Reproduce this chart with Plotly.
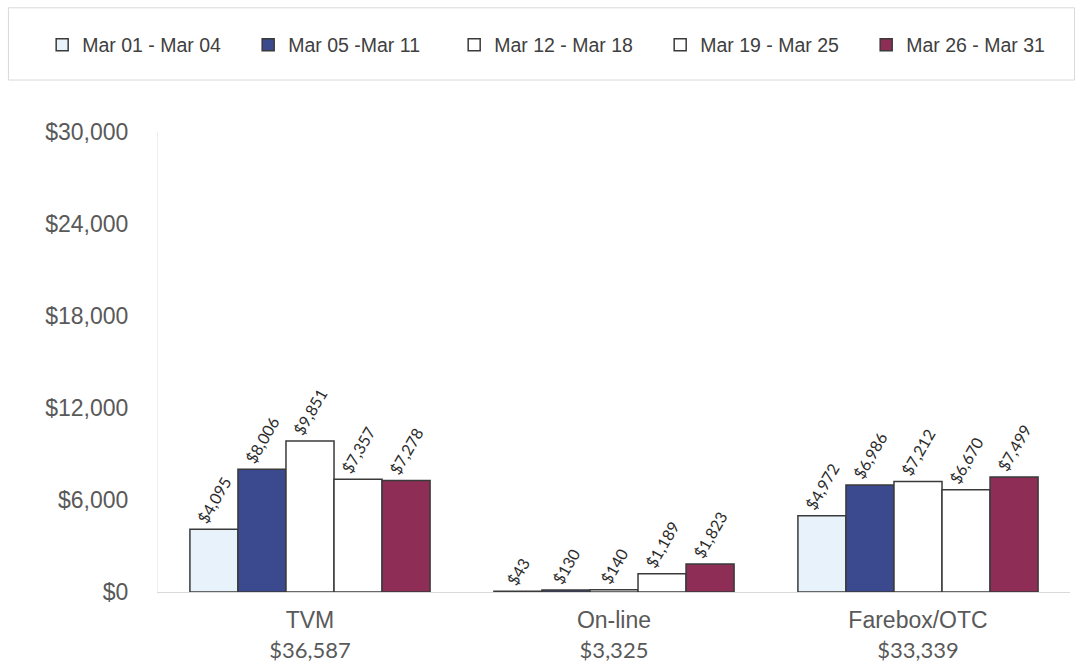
import plotly.graph_objects as go

# Revenue by sales channel, split into weekly periods of March
channels = ["TVM", "On-line", "Farebox/OTC"]
periods = ["Mar 01 - Mar 04", "Mar 05 -Mar 11", "Mar 12 - Mar 18",
           "Mar 19 - Mar 25", "Mar 26 - Mar 31"]
mar01_04 = [4095, 43, 4972]
mar05_11 = [8006, 130, 6986]
mar12_18 = [9851, 140, 7212]
mar19_25 = [7357, 1189, 6670]
mar26_31 = [7278, 1823, 7499]
y_ticks = [0, 6000, 12000, 18000, 24000, 30000]

series = [mar01_04, mar05_11, mar12_18, mar19_25, mar26_31]
fills = ["#E8F2FB", "#3B4A8E", "#FFFFFF", "#FFFFFF", "#8E2D55"]

totals = [sum(s[i] for s in series) for i in range(len(channels))]
tick_text = [
    f"{c}<br><span style='font-family:Lato;font-size:22px'>${t:,}</span>"
    for c, t in zip(channels, totals)
]

fig = go.Figure()
for name, vals, col in zip(periods, series, fills):
    fig.add_trace(go.Bar(
        name=name,
        x=channels,
        y=vals,
        marker=dict(color=col, line=dict(color="#3A3A3A", width=1.5)),
        text=[f"${v:,}" for v in vals],
        textposition="outside",
        textangle=-60,
        constraintext="none",
        textfont=dict(family="Lato", size=16, color="#2B2B2B"),
        cliponaxis=False,
    ))

fig.update_layout(
    width=1081, height=663,
    margin=dict(l=158, r=11, t=132, b=71),
    paper_bgcolor="white", plot_bgcolor="white",
    barmode="group", bargap=0.21, bargroupgap=0,
    font=dict(family="Liberation Sans, Arial", color="#595959"),
    legend=dict(
        orientation="h",
        x=-0.127, xanchor="left",
        y=1.189, yanchor="middle",
        entrywidth=161, entrywidthmode="pixels",
        itemwidth=30,
        font=dict(size=19.5, color="#404040"),
        bgcolor="rgba(0,0,0,0)",
        traceorder="normal",
    ),
    xaxis=dict(
        tickvals=channels, ticktext=tick_text,
        tickfont=dict(size=23, color="#595959"),
        showline=True, linecolor="#D9D9D9", linewidth=1,
        showgrid=False, ticks="",
        ticklabelstandoff=7,
        automargin=False,
    ),
    yaxis=dict(
        range=[0, 30000], tickvals=y_ticks,
        ticktext=[f"${v:,}" for v in y_ticks],
        tickfont=dict(size=23, color="#595959"),
        showgrid=False, zeroline=False,
        showline=True, linecolor="#EEEEEE", linewidth=1,
        ticklabelstandoff=24,
        automargin=False,
    ),
    shapes=[dict(
        type="rect", xref="paper", yref="paper",
        x0=-0.164, x1=1.005, y0=1.113, y1=1.27,
        line=dict(color="#D9D9D9", width=1),
        fillcolor="rgba(0,0,0,0)", layer="below",
    )],
)

fig.write_html("out.html")
